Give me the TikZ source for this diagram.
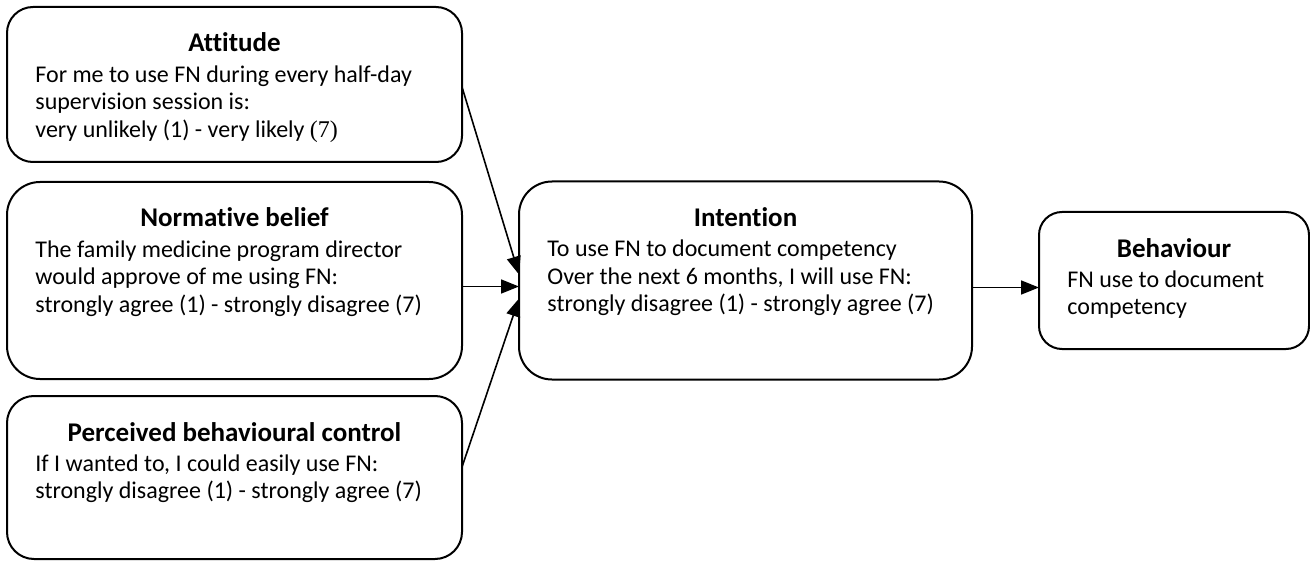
\documentclass[tikz,border=0pt]{standalone}
\usepackage{fontspec}
\setmainfont{Carlito}[Ligatures=NoCommon]
\newfontfamily\sevenfont{Liberation Serif}
\usepackage{tikz}
\usetikzlibrary{arrows.meta, calc, positioning}

\tikzset{
    box/.style={draw, line width=1pt, rounded corners=#1, inner sep=0pt, outer sep=0pt},
    box/.default=13pt,
    boxtitle/.style={anchor=base, inner sep=0pt, font=\fontsize{13.5}{15}\selectfont\bfseries},
    boxtext/.style={anchor=north west, align=left, inner sep=0pt, font=\fontsize{12}{13.75}\selectfont},
}

\begin{document}
\begin{tikzpicture}[node distance=10pt, >={Triangle[length=9pt,width=7pt]}]
    \useasboundingbox (0,0) rectangle (655pt,-280.5pt);

    % Attitude
    \node [box=13pt, minimum width=227.5pt, minimum height=77.5pt] (att_box) at (117.25pt,-42.25pt) {};
    \node [boxtitle] (att_title) at ([yshift=-22.5pt]att_box.north) {Attitude};
    \node [boxtext] (att_text) at ([xshift=14pt,yshift=-29pt]att_box.north west) {For me to use FN during every half-day\\supervision session is:\\very unlikely (1) - very likely {\sevenfont(7)}};

    % Normative belief
    \node [box=16.5pt, minimum width=227.5pt, minimum height=98.5pt, below=10pt of att_box] (norm_box) {};
    \node [boxtitle] (norm_title) at ([yshift=-22.5pt]norm_box.north) {Normative belief};
    \node [boxtext] (norm_text) at ([xshift=14pt,yshift=-29pt]norm_box.north west) {The family medicine program director\\would approve of me using FN:\\strongly agree (1) - strongly disagree (7)};

    % Perceived behavioural control
    \node [box=13.5pt, minimum width=227.5pt, minimum height=81.5pt, below=8.5pt of norm_box] (pbc_box) {};
    \node [boxtitle] (pbc_title) at ([yshift=-22.5pt]pbc_box.north) {Perceived behavioural control};
    \node [boxtext] (pbc_text) at ([xshift=14pt,yshift=-29pt]pbc_box.north west) {If I wanted to, I could easily use FN:\\strongly disagree (1) - strongly agree (7)};

    % Intention
    \node [box=16.5pt, minimum width=226.5pt, minimum height=99pt, right=28.5pt of norm_box] (int_box) {};
    \node [boxtitle] (int_title) at ([yshift=-22.5pt]int_box.north) {Intention};
    \node [boxtext] (int_text) at ([xshift=14pt,yshift=-29pt]int_box.north west) {To use FN to document competency\\Over the next 6 months, I will use FN:\\strongly disagree (1) - strongly agree (7)};

    % Behaviour
    \node [box=11.5pt, minimum width=135pt, minimum height=68.5pt, right=33.5pt of int_box] (beh_box) {};
    \node [boxtitle] (beh_title) at ([yshift=-22.5pt]beh_box.north) {Behaviour};
    \node [boxtext] (beh_text) at ([xshift=14pt,yshift=-29pt]beh_box.north west) {FN use to document\\competency};

    % Connections
    \draw [->, line width=0.8pt] ([yshift=-1.25pt]att_box.east) -- ([yshift=3pt]int_box.west);
    \draw [->, line width=0.8pt] ([yshift=-3pt]norm_box.east) -- ([yshift=-3pt]int_box.west);
    \draw [->, line width=0.8pt] ([yshift=5.25pt]pbc_box.east) -- ([yshift=-9pt]int_box.west);
    \draw [->, line width=0.8pt] ([yshift=-3.5pt]int_box.east) -- ([yshift=-3.5pt]beh_box.west);

\end{tikzpicture}
\end{document}
